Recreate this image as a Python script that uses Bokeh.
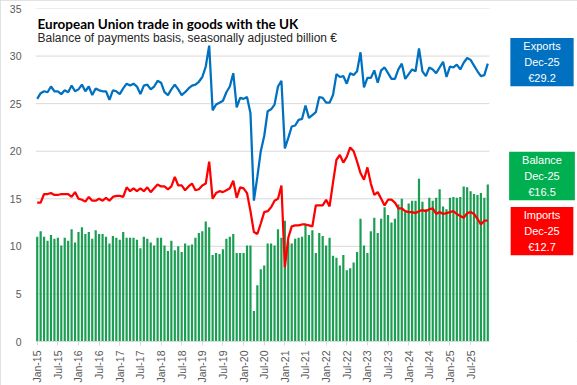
import math
from bokeh.plotting import figure
from bokeh.models import ColumnDataSource, Label, FixedTicker
from bokeh.embed import file_html
from bokeh.resources import INLINE

# ---------------- data ----------------
month_names = ["Jan", "Feb", "Mar", "Apr", "May", "Jun",
               "Jul", "Aug", "Sep", "Oct", "Nov", "Dec"]
years = ["15", "16", "17", "18", "19", "20", "21", "22", "23", "24", "25"]
months = [f"{m}-{y}" for y in years for m in month_names]

tick_labels = ["Jan-15", "Jul-15", "Jan-16", "Jul-16", "Jan-17", "Jul-17",
               "Jan-18", "Jul-18", "Jan-19", "Jul-19", "Jan-20", "Jul-20",
               "Jan-21", "Jul-21", "Jan-22", "Jul-22", "Jan-23", "Jul-23",
               "Jan-24", "Jul-24", "Jan-25", "Jul-25"]

y_ticks = [0, 5, 10, 15, 20, 25, 30, 35]

exports = [
    25.5, 26.1, 26.3, 26.2, 26.8, 26.3, 26.3, 26.0, 26.4, 26.2, 26.9, 26.3,
    26.5, 27.0, 26.3, 26.8, 25.9, 26.6, 26.4, 26.3, 26.3, 25.4, 26.4, 26.3,
    26.0, 26.6, 27.1, 26.9, 27.1, 26.8, 26.0, 26.9, 27.0, 26.5, 26.8, 27.4,
    27.2, 26.2, 25.9, 26.5, 27.0, 26.5, 25.9, 26.2, 26.6, 26.9, 27.0, 27.3,
    27.8, 28.9, 31.1, 24.3, 24.9, 25.1, 25.3, 26.2, 26.8, 28.2, 24.6, 25.6,
    25.5, 25.7, 24.0, 14.8, 17.3, 20.0, 21.6, 24.2, 24.4, 24.9, 26.8, 27.4,
    20.3, 21.4, 22.6, 22.7, 23.3, 23.4, 24.8, 23.5, 23.8, 24.1, 25.7, 25.6,
    25.1, 25.1, 25.9, 28.1, 27.8, 27.9, 27.1, 28.2, 28.0, 28.4, 30.4, 26.7,
    27.7, 27.7, 28.5, 27.2, 28.5, 28.8, 28.2, 27.6, 27.6, 28.6, 29.2, 27.6,
    28.1, 28.6, 28.4, 30.8, 28.4, 27.9, 28.8, 28.6, 28.2, 28.8, 29.4, 27.8,
    28.9, 28.8, 29.1, 28.6, 29.3, 29.8, 29.6, 29.0, 28.4, 27.9, 28.0, 29.2,
]

imports = [
    14.6, 14.6, 15.5, 15.5, 15.6, 15.4, 15.4, 15.5, 15.5, 15.5, 15.2, 15.7,
    15.0, 14.9, 14.7, 15.2, 14.8, 14.8, 15.0, 14.8, 15.1, 14.8, 15.2, 15.3,
    15.3, 15.2, 16.2, 15.8, 16.1, 15.8, 16.1, 15.8, 16.2, 15.7, 16.1, 16.5,
    16.3, 16.3, 16.0, 16.3, 17.3, 16.4, 16.4, 15.9, 16.3, 16.6, 15.9, 16.0,
    16.4, 16.6, 18.9, 15.0, 15.6, 15.8, 15.7, 15.9, 16.1, 16.9, 15.1, 16.2,
    16.1, 15.6, 13.7, 11.5, 11.3, 12.4, 13.6, 13.7, 14.1, 14.8, 15.0, 16.4,
    7.8, 10.9, 12.1, 12.2, 12.2, 12.3, 12.3, 12.2, 12.1, 14.3, 14.3, 14.3,
    14.9, 14.2, 16.7, 19.1, 19.6, 18.8, 19.4, 20.4, 20.0, 18.9, 17.7, 17.0,
    18.3, 16.6, 15.4, 15.7, 15.0, 14.3, 14.9, 14.9, 14.6, 14.0, 14.0, 13.7,
    13.6, 13.6, 13.5, 13.7, 13.8, 13.7, 13.9, 14.0, 13.4, 13.6, 13.4, 13.5,
    13.6, 13.7, 13.4, 13.2, 13.0, 13.5, 13.6, 13.4, 12.9, 12.3, 12.7, 12.7,
]

balance = [
    11.0, 11.6, 11.0, 10.6, 11.2, 10.8, 10.9, 10.1, 10.9, 10.6, 11.8, 10.4,
    11.5, 12.0, 11.3, 11.5, 10.8, 11.7, 11.3, 11.3, 11.0, 10.3, 11.1, 10.9,
    10.7, 11.5, 10.9, 10.9, 10.9, 10.7, 9.8, 11.0, 10.8, 10.4, 10.1, 10.9,
    10.9, 10.1, 9.5, 10.6, 9.6, 10.0, 9.4, 10.3, 10.1, 10.2, 10.9, 11.4,
    11.6, 12.6, 12.0, 9.1, 9.3, 9.2, 9.7, 10.8, 11.0, 11.3, 9.3, 9.3,
    9.3, 10.1, 10.1, 3.2, 5.9, 7.6, 8.0, 10.3, 10.3, 10.1, 11.8, 10.9,
    12.7, 10.5, 10.3, 10.8, 10.9, 11.0, 12.3, 11.2, 11.7, 9.3, 11.4, 11.1,
    10.1, 10.9, 9.0, 8.8, 8.0, 9.1, 7.5, 7.7, 8.3, 9.4, 12.9, 10.1,
    9.3, 11.6, 13.0, 11.4, 12.9, 14.1, 13.3, 12.5, 12.9, 14.4, 15.0, 13.6,
    14.5, 14.8, 14.8, 17.1, 14.7, 13.9, 15.1, 14.8, 15.1, 16.0, 14.2, 13.9,
    15.1, 15.2, 15.1, 15.2, 16.3, 16.2, 15.8, 15.5, 15.4, 15.6, 15.1, 16.5,
]

# ---------------- styling ----------------
BLUE = "#0070C0"
RED = "#FF0000"
BAR_GREEN = "#1A9E52"
BOX_GREEN = "#00B050"
GRID = "#D9D9D9"
TXT = "#595959"

W, H = 577, 385
LEFT, RIGHT_DATA_EDGE, TOP, BOTTOM = 35, 489, 8, 42

x = list(range(len(months)))
src = ColumnDataSource(dict(x=x, month=months, exports=exports,
                            imports=imports, balance=balance))

x_start = x[0] - 0.5
x_end = x[-1] + 0.5
px_per_unit = (RIGHT_DATA_EDGE - LEFT) / (x_end - x_start)
x_view_end = x_end + (W - RIGHT_DATA_EDGE) / px_per_unit   # room for end boxes

p = figure(width=W, height=H, title=None,
           x_range=(x_start, x_view_end), y_range=(y_ticks[0], y_ticks[-1]),
           output_backend="svg", toolbar_location=None,
           min_border_left=LEFT, min_border_right=0,
           min_border_top=TOP, min_border_bottom=BOTTOM)

p.outline_line_color = None
p.background_fill_color = "white"
p.border_fill_color = "white"
p.styles = {"outline": "1px solid #D9D9D9", "outline-offset": "-1px"}

# horizontal gridlines limited to the data span
grid_src = ColumnDataSource(dict(y=y_ticks, x0=[x_start] * len(y_ticks),
                                 x1=[x_end] * len(y_ticks)))
p.segment(x0="x0", x1="x1", y0="y", y1="y", line_color=GRID, line_width=1,
          source=grid_src)

p.vbar(x="x", top="balance", width=0.64, fill_color=BAR_GREEN,
       line_color=None, source=src)
p.line("x", "imports", line_width=2.25, line_color=RED, source=src)
p.line("x", "exports", line_width=2.25, line_color=BLUE, source=src)

# axes
tick_pos = [months.index(t) for t in tick_labels]
p.xaxis.ticker = FixedTicker(ticks=tick_pos)
p.xaxis.bounds = (x_start, x_end)
p.xaxis.major_label_overrides = {pos: lab for pos, lab in zip(tick_pos, tick_labels)}
p.xaxis.major_label_orientation = math.pi / 2
p.xaxis.major_label_text_font = "Liberation Sans"
p.xaxis.major_label_text_font_size = "10.5px"
p.xaxis.major_label_text_color = TXT
p.xaxis.major_label_standoff = 5
p.xaxis.axis_line_color = GRID
p.xaxis.major_tick_line_color = GRID
p.xaxis.major_tick_in = 0
p.xaxis.major_tick_out = 4
p.xaxis.minor_tick_line_color = None

p.yaxis.ticker = FixedTicker(ticks=y_ticks)
p.yaxis.axis_line_color = None
p.yaxis.major_tick_line_color = None
p.yaxis.minor_tick_line_color = None
p.yaxis.major_label_text_font = "Liberation Sans"
p.yaxis.major_label_text_font_size = "10.5px"
p.yaxis.major_label_text_color = TXT
p.yaxis.major_label_standoff = 8

p.xgrid.visible = False
p.ygrid.visible = False

# title & subtitle
p.add_layout(Label(x=2, y=33.33, x_units="screen", y_units="data",
                   text="European Union trade in goods with the UK",
                   text_font="Lato", text_font_style="bold",
                   text_font_size="13.5px", text_color="black",
                   text_baseline="alphabetic", text_align="left"))
p.add_layout(Label(x=2, y=31.9, x_units="screen", y_units="data",
                   text="Balance of payments basis, seasonally adjusted billion €",
                   text_font="Liberation Sans", text_font_size="12px",
                   text_color="#262626", text_baseline="alphabetic",
                   text_align="left"))

# end-of-series boxes
last = months[-1]
boxes = [("Exports", exports[-1], BLUE, 29.36),
         ("Balance", balance[-1], BOX_GREEN, 17.40),
         ("Imports", imports[-1], RED, 11.60)]
for name, val, col, ypos in boxes:
    p.add_layout(Label(x=541.5 - LEFT, y=ypos, x_units="screen", y_units="data",
                       text=f"{name}\n{last}\n€{val:.1f}",
                       text_font="Liberation Sans", text_font_size="11px",
                       text_color="white", text_align="center",
                       text_baseline="middle", text_line_height=1.35,
                       background_fill_color=col,
                       padding=dict(left=13, right=13, top=2, bottom=2)))

open("out.html", "w").write(file_html(p, INLINE))
